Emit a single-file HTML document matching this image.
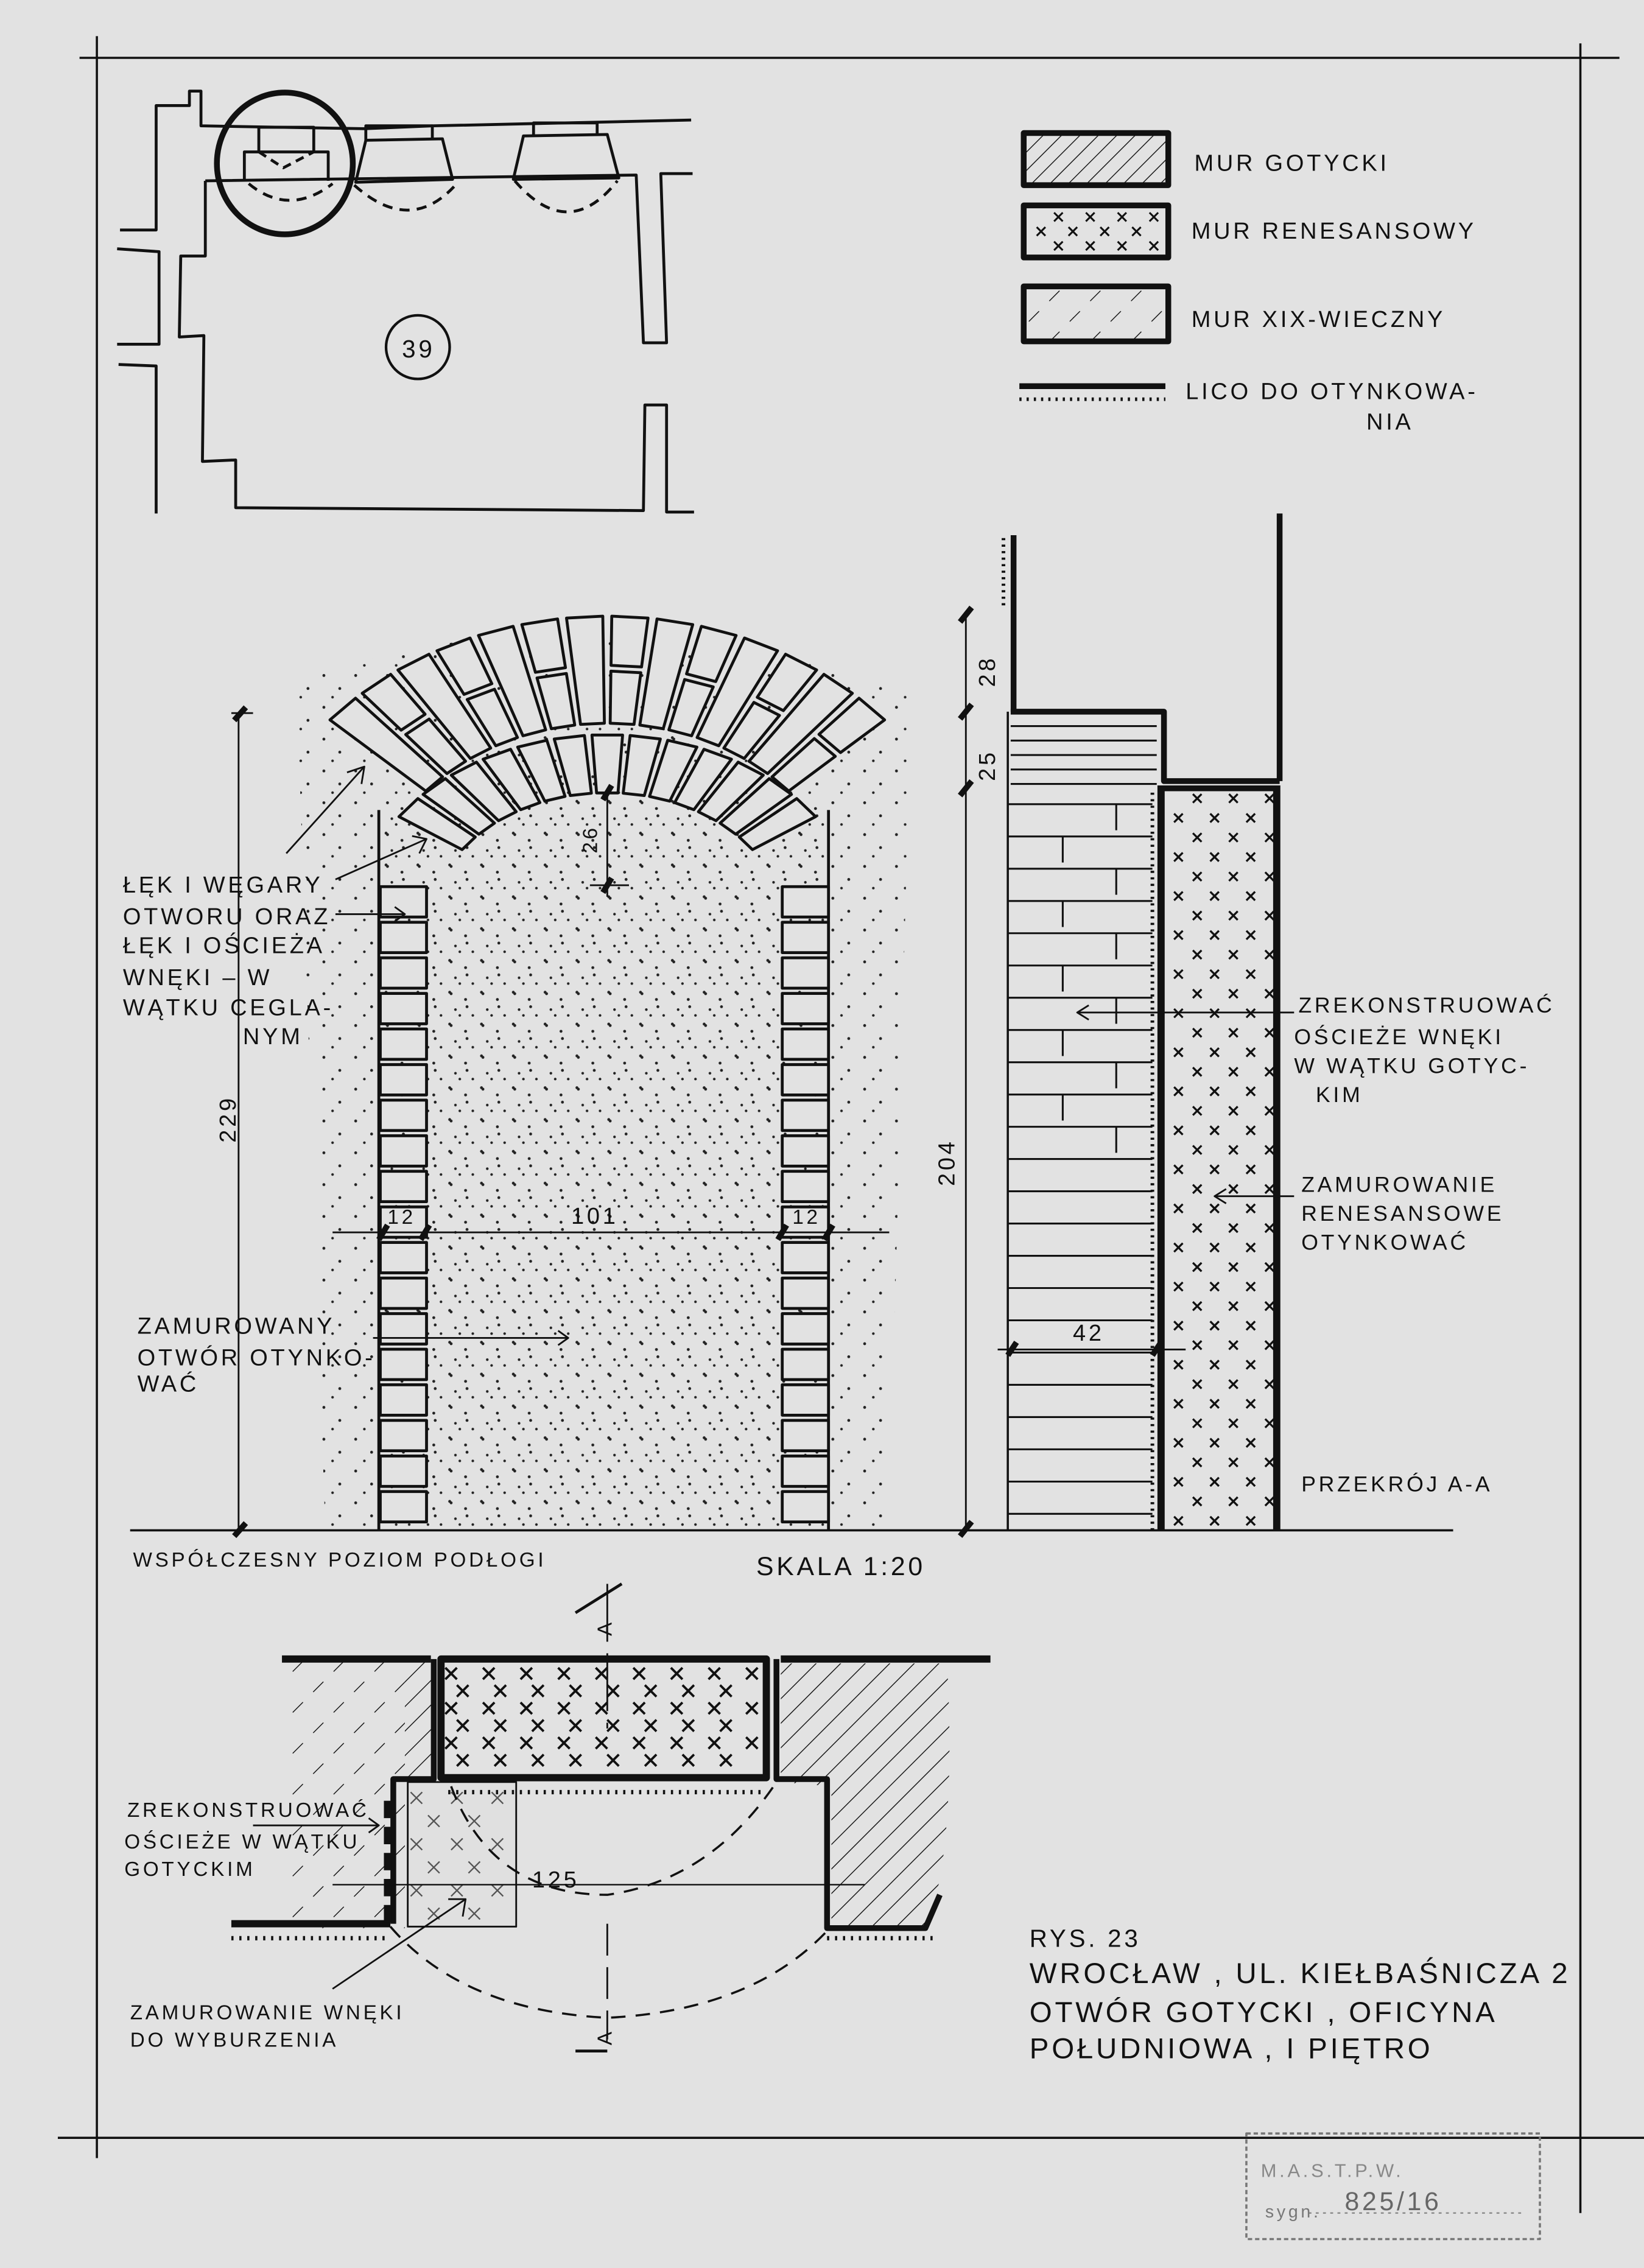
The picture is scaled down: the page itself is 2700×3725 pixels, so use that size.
<!DOCTYPE html>
<html><head><meta charset="utf-8">
<style>
html,body{margin:0;padding:0;background:#e2e2e2;}
svg{display:block;}
text{font-family:"Liberation Sans",sans-serif;fill:#111;letter-spacing:2px;}
</style></head>
<body>
<svg id="s" width="2700" height="3725" viewBox="0 0 1137 1568" preserveAspectRatio="none" xmlns="http://www.w3.org/2000/svg">
<defs>
<pattern id="dots" width="22" height="22" patternUnits="userSpaceOnUse">
<circle cx="3" cy="4" r="1" fill="#222"/><circle cx="14" cy="9" r="1" fill="#222"/><circle cx="7" cy="16" r="0.9" fill="#222"/><circle cx="19" cy="20" r="0.9" fill="#222"/>
</pattern>
<pattern id="dots2" width="22" height="22" patternUnits="userSpaceOnUse">
<circle cx="4" cy="5" r="1" fill="#222"/><circle cx="15" cy="14" r="1" fill="#222"/><circle cx="10" cy="20" r="0.9" fill="#222"/>
</pattern>
<pattern id="hatchD" width="9" height="9" patternUnits="userSpaceOnUse" patternTransform="rotate(45)">
<line x1="0" y1="0" x2="0" y2="9" stroke="#111" stroke-width="1.2"/></pattern>
<pattern id="hatchS" width="20" height="20" patternUnits="userSpaceOnUse" patternTransform="rotate(45)">
<line x1="0" y1="4" x2="0" y2="14" stroke="#111" stroke-width="1.2"/></pattern>
<pattern id="hatchB" width="12" height="12" patternUnits="userSpaceOnUse" patternTransform="rotate(45)">
<line x1="0" y1="0" x2="0" y2="12" stroke="#111" stroke-width="1.2"/></pattern>
</defs>
<rect width="1137" height="1568" fill="#e2e2e2"/>
<g id="g" fill="none" stroke="#111" stroke-width="2" stroke-linejoin="round">
<line x1="55" y1="40" x2="1120" y2="40" stroke-width="1.5"/>
<line x1="67" y1="25" x2="67" y2="1492" stroke-width="1.5"/>
<line x1="1093" y1="30" x2="1093" y2="1530" stroke-width="1.5"/>
<line x1="40" y1="1478" x2="1137" y2="1478" stroke-width="1.5"/>
<polyline points="83,159 108,159 108,73 131,73 131,63 139,63 139,87 252,89 300,87 478,83"/>
<polyline points="142,125 440,121 445,237 461,237 457,120 479,120"/>
<polyline points="81,172 110,174 110,238 81,238"/>
<polyline points="82,252 108,253 108,355"/>
<polyline points="142,125 142,177 125,177 124,233 141,232 140,319 163,318 163,351 445,353 446,280 461,280 461,354 480,354"/>
<ellipse cx="197" cy="113" rx="47" ry="49" stroke-width="4"/>
<circle cx="289" cy="240" r="22" stroke-width="1.8"/>
<polyline points="179,105 179,88 217,88 217,105"/>
<polyline points="169,125 169,105 227,105 227,125"/>
<polyline points="179,105 196,116 217,105" stroke-dasharray="6,4"/>
<path d="M172,127 Q200,150 230,127" stroke-dasharray="7,5"/>
<polyline points="253,97 253,87 299,87 299,96"/>
<polygon points="253,97 306,96 313,124 246,126"/>
<path d="M245,128 Q283,162 314,129" stroke-dasharray="7,5"/>
<polyline points="369,94 369,85 413,85 413,93"/>
<polygon points="362,94 420,93 428,123 355,124"/>
<path d="M356,125 Q393,168 427,125" stroke-dasharray="7,5"/>
<rect x="708" y="92" width="100" height="36" fill="url(#hatchD)" stroke-width="4"/>
<rect x="708" y="142" width="100" height="36" stroke-width="4"/>
<rect x="708" y="198" width="100" height="38" fill="url(#hatchS)" stroke-width="4"/>
<line x1="705" y1="267" x2="806" y2="267" stroke-width="4"/>
<line x1="705" y1="276" x2="806" y2="276" stroke-width="2.5" stroke-dasharray="1.5,3.5"/>
<path d="M205,470 Q420,400 630,480 L615,1058 L225,1058 Z" fill="url(#dots2)" stroke="none"/>
<path d="M262,612 L262,560 Q420,440 573,560 L573,1058 L262,1058 Z" fill="url(#dots)" stroke="none"/>
<g id="arch"></g>
<g id="jambs"></g>
<line x1="90" y1="1058" x2="1005" y2="1058" stroke-width="1.5"/>
<line x1="165" y1="493" x2="165" y2="1058" stroke-width="1.2"/>
<line x1="160" y1="493" x2="175" y2="493" stroke-width="1.2"/>
<line x1="162" y1="498" x2="170" y2="489" stroke-width="4"/>
<line x1="162" y1="1062" x2="170" y2="1053" stroke-width="4"/>
<line x1="230" y1="852" x2="615" y2="852" stroke-width="1.2"/>
<line x1="262" y1="857" x2="268" y2="847" stroke-width="4"/>
<line x1="291" y1="857" x2="297" y2="847" stroke-width="4"/>
<line x1="538" y1="857" x2="544" y2="847" stroke-width="4"/>
<line x1="570" y1="857" x2="576" y2="847" stroke-width="4"/>
<line x1="420" y1="548" x2="420" y2="620" stroke-width="1.2"/>
<line x1="408" y1="612" x2="435" y2="612" stroke-width="1.2"/>
<line x1="417" y1="553" x2="423" y2="543" stroke-width="4"/>
<line x1="417" y1="617" x2="423" y2="607" stroke-width="4"/>
<line x1="198" y1="590" x2="252" y2="530" stroke-width="1.2"/>
<polyline points="240,534 252,530 250,542" stroke-width="1.2"/>
<line x1="232" y1="608" x2="295" y2="580" stroke-width="1.2"/>
<polyline points="285,578 295,580 290,590" stroke-width="1.2"/>
<line x1="232" y1="632" x2="280" y2="632" stroke-width="1.2"/>
<polyline points="273,627 280,632 273,637" stroke-width="1.2"/>
<line x1="258" y1="925" x2="393" y2="925" stroke-width="1.2"/>
<polyline points="386,920 393,925 386,930" stroke-width="1.2"/>
<line x1="701" y1="370" x2="701" y2="492" stroke-width="4"/>
<line x1="694" y1="372" x2="694" y2="420" stroke-width="2.5" stroke-dasharray="1.5,3"/>
<line x1="885" y1="355" x2="885" y2="540" stroke-width="4"/>
<polyline points="699,492 805,492 805,540 885,540" stroke-width="4"/>
<g id="sect"></g>
<line x1="697" y1="492" x2="697" y2="1058" stroke-width="1.5"/>
<rect x="803" y="545" width="80" height="513" fill="none" stroke-width="1"/>
<line x1="803" y1="543" x2="803" y2="1058" stroke-width="5"/>
<line x1="883" y1="543" x2="883" y2="1058" stroke-width="5"/>
<line x1="803" y1="545" x2="885" y2="545" stroke-width="4"/>
<line x1="797" y1="548" x2="797" y2="1058" stroke-width="2.5" stroke-dasharray="1.5,3"/>
<line x1="668" y1="425" x2="668" y2="1058" stroke-width="1.2"/>
<line x1="664" y1="430" x2="672" y2="420" stroke-width="4"/>
<line x1="664" y1="497" x2="672" y2="487" stroke-width="4"/>
<line x1="664" y1="550" x2="672" y2="540" stroke-width="4"/>
<line x1="664" y1="1062" x2="672" y2="1052" stroke-width="4"/>
<line x1="690" y1="933" x2="820" y2="933" stroke-width="1.2"/>
<line x1="697" y1="937" x2="703" y2="928" stroke-width="4"/>
<line x1="797" y1="937" x2="803" y2="928" stroke-width="4"/>
<line x1="745" y1="700" x2="895" y2="700" stroke-width="1.2"/>
<polyline points="753,695 745,700 753,705" stroke-width="1.2"/>
<line x1="840" y1="827" x2="895" y2="827" stroke-width="1.2"/>
<polyline points="848,822 840,827 848,832" stroke-width="1.2"/>
<rect x="196" y="1148" width="84" height="185" fill="url(#hatchS)" stroke="none"/>
<rect x="280" y="1148" width="20" height="82" fill="url(#hatchB)" stroke="none"/>
<path d="M540,1150 L655,1150 Q660,1240 650,1300 L640,1333 L575,1333 L575,1235 L540,1232 Z" fill="url(#hatchB)" stroke="none"/>
<rect x="282" y="1232" width="75" height="100" fill="#e0e0e0" stroke-width="1.2"/>
<g id="bx"></g>
<line x1="195" y1="1147" x2="298" y2="1147" stroke-width="5"/>
<line x1="540" y1="1147" x2="685" y2="1147" stroke-width="5"/>
<rect x="305" y="1147" width="225" height="82" stroke-width="5" fill="none"/>
<polyline points="300,1147 300,1230 272,1230 272,1330" stroke-width="4"/>
<polyline points="537,1147 537,1230 572,1230 572,1333 640,1333 650,1310" stroke-width="4"/>
<line x1="160" y1="1330" x2="270" y2="1330" stroke-width="5"/>
<line x1="268" y1="1245" x2="268" y2="1330" stroke-width="5" stroke-dasharray="12,6"/>
<line x1="310" y1="1239" x2="530" y2="1239" stroke-width="3" stroke-dasharray="1.5,4"/>
<line x1="160" y1="1340" x2="270" y2="1340" stroke-width="3" stroke-dasharray="1.5,4"/>
<line x1="572" y1="1340" x2="645" y2="1340" stroke-width="3" stroke-dasharray="1.5,4"/>
<path d="M312,1235 Q340,1310 420,1310 Q490,1300 535,1235" stroke-width="1.5" stroke-dasharray="10,7"/>
<path d="M270,1332 Q320,1390 420,1395 Q520,1390 572,1335" stroke-width="1.5" stroke-dasharray="10,7"/>
<line x1="230" y1="1303" x2="598" y2="1303" stroke-width="1"/>
<line x1="420" y1="1095" x2="420" y2="1195" stroke-width="1.2" stroke-dasharray="40,8"/>
<line x1="420" y1="1330" x2="420" y2="1410" stroke-width="1.2" stroke-dasharray="22,8"/>
<polyline points="398,1115 430,1095 M398,1115 420,1115"/>
<polyline points="398,1418 420,1418 M398,1418 430,1440"/>
<line x1="230" y1="1375" x2="322" y2="1313" stroke-width="1.2"/>
<polyline points="310,1313 322,1313 320,1325" stroke-width="1.2"/>
<line x1="175" y1="1262" x2="262" y2="1262" stroke-width="1.2"/>
<polyline points="255,1257 262,1262 255,1267" stroke-width="1.2"/>
<rect x="862" y="1475" width="203" height="73" stroke="#777" stroke-width="1.5" stroke-dasharray="3,2"/>
<line x1="905" y1="1530" x2="1055" y2="1530" stroke="#888" stroke-width="1" stroke-dasharray="2,3"/>
</g>
<g font-size="16">
<text x="826" y="118">MUR  GOTYCKI</text>
<text x="824" y="165">MUR   RENESANSOWY</text>
<text x="824" y="226">MUR   XIX-WIECZNY</text>
<text x="820" y="276">LICO  DO OTYNKOWA-</text>
<text x="945" y="297">NIA</text>
<text x="278" y="247" font-size="17">39</text>
<text x="85" y="617">ŁĘK I WĘGARY</text>
<text x="85" y="639">OTWORU ORAZ</text>
<text x="85" y="659">ŁĘK I OŚCIEŻA</text>
<text x="85" y="681">WNĘKI – W</text>
<text x="85" y="702">WĄTKU CEGLA-</text>
<text x="168" y="722">NYM</text>
<text x="95" y="922">ZAMUROWANY</text>
<text x="95" y="944">OTWÓR  OTYNKO-</text>
<text x="95" y="962">WAĆ</text>
<text x="268" y="846" font-size="14">12</text>
<text x="395" y="846">101</text>
<text x="548" y="846" font-size="14">12</text>
<text transform="translate(163,790) rotate(-90)">229</text>
<text transform="translate(413,590) rotate(-90)" font-size="14">26</text>
<text transform="translate(688,475) rotate(-90)">28</text>
<text transform="translate(688,540) rotate(-90)">25</text>
<text transform="translate(660,820) rotate(-90)">204</text>
<text x="742" y="927">42</text>
<text x="92" y="1083" font-size="14">WSPÓŁCZESNY  POZIOM  PODŁOGI</text>
<text x="523" y="1089" font-size="18">SKALA 1:20</text>
<text x="898" y="700" font-size="15">ZREKONSTRUOWAĆ</text>
<text x="895" y="722" font-size="15">OŚCIEŻE  WNĘKI</text>
<text x="895" y="742" font-size="15">W WĄTKU GOTYC-</text>
<text x="910" y="762" font-size="15">KIM</text>
<text x="900" y="824" font-size="15">ZAMUROWANIE</text>
<text x="900" y="844" font-size="15">RENESANSOWE</text>
<text x="900" y="864" font-size="15">OTYNKOWAĆ</text>
<text x="900" y="1031" font-size="15">PRZEKRÓJ  A-A</text>
<text x="88" y="1256" font-size="14">ZREKONSTRUOWAĆ</text>
<text x="86" y="1278" font-size="14">OŚCIEŻE  W WĄTKU</text>
<text x="86" y="1297" font-size="14">GOTYCKIM</text>
<text x="368" y="1305">125</text>
<text x="90" y="1396" font-size="14">ZAMUROWANIE WNĘKI</text>
<text x="90" y="1415" font-size="14">DO   WYBURZENIA</text>
<text x="412" y="1130" font-size="14" transform="rotate(-90 418 1125)">A</text>
<text x="412" y="1413" font-size="14" transform="rotate(-90 418 1408)">A</text>
<text x="712" y="1346" font-size="17">RYS. 23</text>
<text x="712" y="1371" font-size="20">WROCŁAW , UL. KIEŁBAŚNICZA 2</text>
<text x="712" y="1398" font-size="20">OTWÓR  GOTYCKI , OFICYNA</text>
<text x="712" y="1423" font-size="20">POŁUDNIOWA  , I PIĘTRO</text>
<text x="872" y="1505" font-size="13" style="fill:#888">M.A.S.T.P.W.</text>
<text x="875" y="1533" font-size="12" style="fill:#777">sygn.</text>
<text x="930" y="1528" font-size="18" style="fill:#666">825/16</text>
</g>
</svg>
<script>
var NS="http://www.w3.org/2000/svg";
function el(p,t,a){var e=document.createElementNS(NS,t);for(var k in a)e.setAttribute(k,a[k]);p.appendChild(e);return e;}
function poly(p,pts,a){a=a||{};a.points=pts.map(function(q){return q[0].toFixed(1)+","+q[1].toFixed(1)}).join(" ");a.fill=a.fill||"#e2e2e2";return el(p,"polygon",a);}
var arch=document.getElementById("arch");
function P(th,r,kx,cx,cy){return [cx+r*Math.sin(th)*kx, cy-r*Math.cos(th)];}
var n=14,A=49*Math.PI/180,gap=0.012;
for(var i=0;i<n;i++){var a0=-A+2*A*i/n+gap,a1=-A+2*A*(i+1)/n-gap;
 var r1=140,r2=214,kx=1.2,cx=420,cy=640;
 if(i%2==1){var rm=178;
  poly(arch,[P(a0,r1,kx,cx,cy),P(a1,r1,kx,cx,cy),P(a1,rm-2,kx,cx,cy),P(a0,rm-2,kx,cx,cy)]);
  poly(arch,[P(a0,rm+2,kx,cx,cy),P(a1,rm+2,kx,cx,cy),P(a1,r2,kx,cx,cy),P(a0,r2,kx,cx,cy)]);
 } else poly(arch,[P(a0,r1,kx,cx,cy),P(a1,r1,kx,cx,cy),P(a1,r2,kx,cx,cy),P(a0,r2,kx,cx,cy)]);
}
n=13;A=56*Math.PI/180;
for(var i=0;i<n;i++){var a0=-A+2*A*i/n+0.015,a1=-A+2*A*(i+1)/n-0.015;
 var r1=92,r2=132,kx=1.33,cx=420,cy=640;
 poly(arch,[P(a0,r1,kx,cx,cy),P(a1,r1,kx,cx,cy),P(a1,r2,kx,cx,cy),P(a0,r2,kx,cx,cy)]);
}
el(arch,"line",{x1:262,y1:560,x2:262,y2:1058});
el(arch,"line",{x1:573,y1:560,x2:573,y2:1058});
var jb=document.getElementById("jambs");
for(var y=613;y<1040;y+=24.6){
 el(jb,"rect",{x:263,y:y,width:32,height:21,fill:"#e2e2e2"});
 el(jb,"rect",{x:541,y:y,width:32,height:21,fill:"#e2e2e2"});
}
var s=document.getElementById("sect");
for(var y=502;y<545;y+=10) el(s,"line",{x1:699,y1:y,x2:800,y2:y,"stroke-width":1.3});
for(var y=556,k=0;y<1056;y+=22.3,k++){
 el(s,"line",{x1:697,y1:y,x2:797,y2:y,"stroke-width":1.3});
 if(y<800){var vx=(k%2)?735:772;el(s,"line",{x1:vx,y1:y,x2:vx,y2:y+18,"stroke-width":1.3});}
}
function cross(p,x,y,d,w,c){el(p,"line",{x1:x-d,y1:y-d,x2:x+d,y2:y+d,"stroke-width":w,stroke:c||"#111"});el(p,"line",{x1:x-d,y1:y+d,x2:x+d,y2:y-d,"stroke-width":w,stroke:c||"#111"});}
for(var y=552,r=0;y<1055;y+=13.5,r++){for(var x=(r%2?815:828);x<880;x+=25)cross(s,x,y,3,1.4);}
for(var r=0;r<3;r++)for(var x=(r%2?720:732);x<800;x+=22)cross(s,x,150+r*10,3,1.3);
var bx=document.getElementById("bx");
for(var y=1157,r=0;y<1225;y+=12,r++){for(var x=(r%2?320:312);x<528;x+=26)cross(bx,x,y,4,1.6);}
for(var y=1243,r=0;y<1328;y+=16,r++){for(var x=(r%2?300:288);x<355;x+=28)cross(bx,x,y,4,1,"#555");}
</script>
</body></html>
